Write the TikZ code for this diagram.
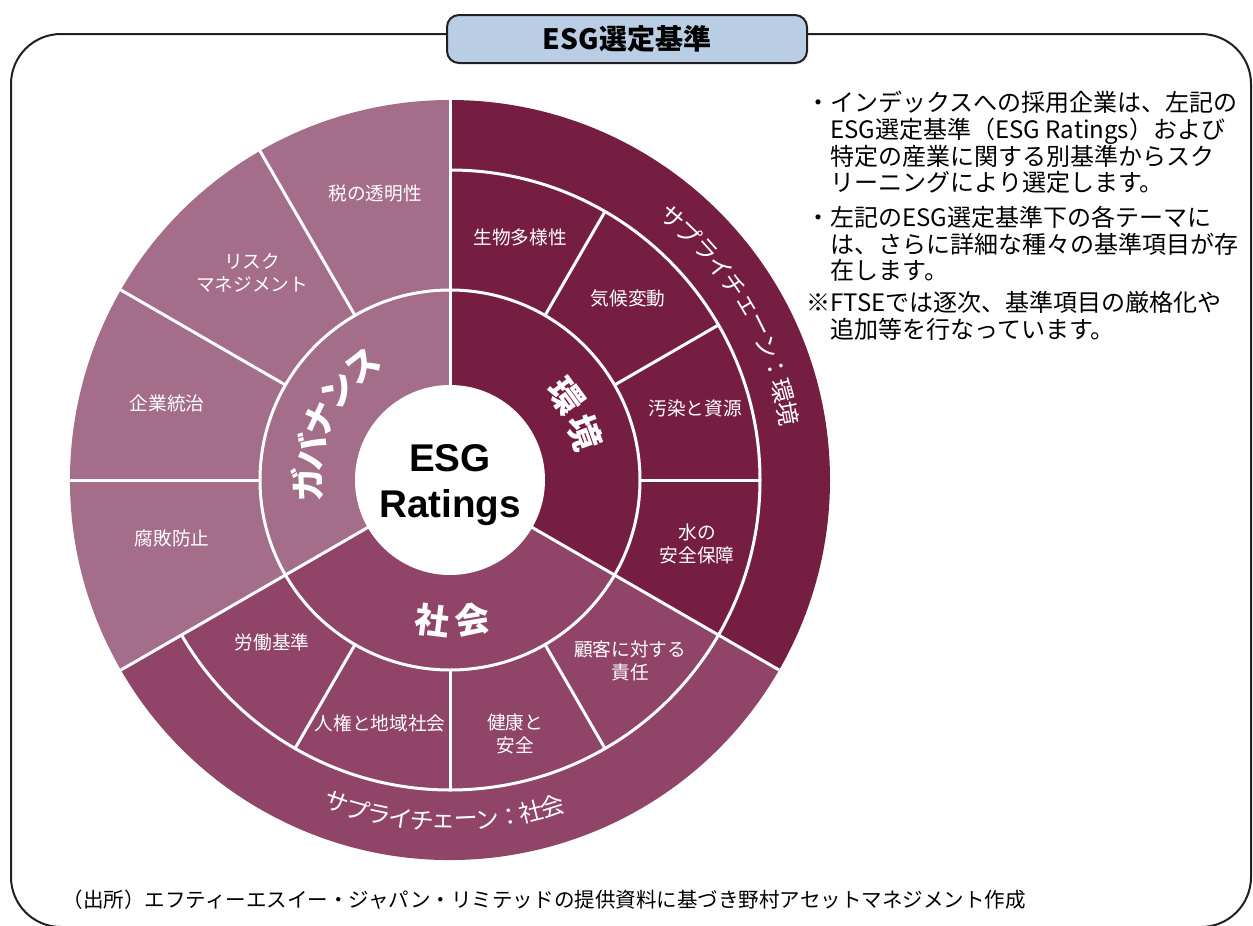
\documentclass[tikz,border=0pt]{standalone}
\usepackage{fontspec}
\setmainfont{Noto Sans CJK JP}
\newfontfamily\latinfont{Liberation Sans}
\usetikzlibrary{positioning,calc}

\definecolor{envc}{RGB}{117,30,66}
\definecolor{socc}{RGB}{143,68,104}
\definecolor{govc}{RGB}{164,109,137}
\definecolor{titlebg}{RGB}{185,205,229}
\definecolor{framec}{RGB}{35,31,32}

\newcommand{\ind}{\hspace*{1em}}

\tikzset{every picture/.style={line width=0.75pt}}
\tikzset{
  wline/.style={draw=white,line width=2.25pt},
  titlebox/.style={draw=framec,line width=1.5pt,fill=titlebg,rounded corners=9pt,minimum width=270pt,minimum height=36pt,inner sep=0pt,font=\bfseries\fontsize{21}{21}\selectfont},
  core/.style={circle,fill=white,minimum size=142.5pt,inner sep=0pt},
  coretxt/.style={align=center,inner sep=0pt,font=\latinfont\bfseries\fontsize{29}{34.5}\selectfont},
  sublbl/.style={text=white,align=center,inner sep=0.75pt,font=\fontsize{14}{17}\selectfont},
  mainlbl/.style={text=white,inner sep=0pt,font=\bfseries\fontsize{26}{26}\selectfont},
  ringlbl/.style={text=white,inner sep=0pt,font=\fontsize{18}{18}\selectfont},
  notetxt/.style={align=left,inner sep=0pt,font=\fontsize{18}{19.9}\selectfont},
}

\begin{document}
\begin{tikzpicture}[x=0.75pt,y=0.75pt,yscale=-1,xscale=1]
	%set diagram to 1253 x 925
	\useasboundingbox (0,0) rectangle (1253,925);

	%Shape: Rounded Rectangle
	\draw[framec,line width=1.5pt,rounded corners=37.5pt] (11,34) rectangle (1251,927);
	% Text Node
	\node[titlebox] (title) at (627,39) {ESG選定基準};

	\coordinate (C) at (450,480);
	%Shape: Pie
	\fill[envc] (C) -- ++(-90:380) arc[start angle=-90,end angle=30,radius=380] -- cycle;
	%Shape: Pie
	\fill[socc] (C) -- ++(30:380) arc[start angle=30,end angle=150,radius=380] -- cycle;
	%Shape: Pie
	\fill[govc] (C) -- ++(150:380) arc[start angle=150,end angle=270,radius=380] -- cycle;

	%Shape: Circle
	\draw[wline] (C) circle[radius=190];
	%Shape: Arc
	\draw[wline] (C) ++(-90:310) arc[start angle=-90,end angle=150,radius=310];
	%Shape: Lines
	\foreach \a in {-90,30,150} \draw[wline] (C) -- ++(\a:380);
	\foreach \a in {-60,-30,0,60,90,120} \draw[wline] (C) ++(\a:190) -- ++(\a:120);
	\foreach \a in {-120,-150,180} \draw[wline] (C) ++(\a:190) -- ++(\a:190);

	%Shape: Circle
	\node[core] (core) at (C) {};
	% Text Node
	\node[coretxt] (rating) at (450,485) {ESG\\Ratings};

	% main themes
	\foreach \ch/\ang [count=\i] in {環/36,境/19.5}
		\node[mainlbl,rotate=\ang-90] (env\i) at ($(C)+(-\ang:143)$) {\ch};
	\foreach \ch/\ang [count=\i] in {ガ/182,バ/168.4,ナ/154.8,ン/141.2,ス/127.6}
		\node[mainlbl,rotate=\ang-90] (gov\i) at ($(C)+(-\ang:143)$) {\ch};
	\foreach \ch/\ang [count=\i] in {社/-97.3,会/-80.7}
		\node[mainlbl,rotate=\ang+90] (soc\i) at ($(C)+(-\ang:142)$) {\ch};

	% supply chain rings
	\foreach \ch [count=\i from 0] in {サ,プ,ラ,イ,チ,ェ,ー,ン,：,環,境} {
		\pgfmathsetmacro\ang{49.8-\i*3.86}
		\node[ringlbl,rotate=\ang-90] (sce\i) at ($(C)+(-\ang:344)$) {\ch};
	}
	\foreach \ch [count=\i from 0] in {サ,プ,ラ,イ,チ,ェ,ー,ン,：,社,会} {
		\pgfmathsetmacro\ang{-109.35+\i*3.67}
		\node[ringlbl,rotate=\ang+90] (scs\i) at ($(C)+(-\ang:342)$) {\ch};
	}

	% Text Node
	\node[sublbl] (biodiv) at (520,237) {生物多様性};
	% Text Node
	\node[sublbl] (climate) at (628,298) {気候変動};
	% Text Node
	\node[sublbl] (pollution) at (695,408) {汚染と資源};
	% Text Node
	\node[sublbl] (water) at (697,544) {水の\\安全保障};
	% Text Node
	\node[sublbl] (customer) at (630,661) {顧客に対する\\責任};
	% Text Node
	\node[sublbl] (health) at (515,734) {健康と\\安全};
	% Text Node
	\node[sublbl] (rights) at (380,723) {人権と地域社会};
	% Text Node
	\node[sublbl] (labour) at (272,642) {労働基準};
	% Text Node
	\node[sublbl] (anticorr) at (172,538) {腐敗防止};
	% Text Node
	\node[sublbl] (corpgov) at (167,403) {企業統治};
	% Text Node
	\node[sublbl] (risk) at (252,273) {リスク\\マネジメント};
	% Text Node
	\node[sublbl] (tax) at (375,193) {税の透明性};

	% Text Node
	\node[notetxt,anchor=north west] (note1) at (806,91) {・インデックスへの採用企業は、左記の\\\ind ESG選定基準（ESG Ratings）および\\\ind 特定の産業に関する別基準からスク\\\ind リーニングにより選定します。};
	% Text Node
	\node[notetxt,anchor=north west] (note2) at (806,206) {・左記のESG選定基準下の各テーマに\\\ind は、さらに詳細な種々の基準項目が存\\\ind 在します。};
	% Text Node
	\node[notetxt,anchor=north west] (note3) at (806,291) {※FTSEでは逐次、基準項目の厳格化や\\\ind 追加等を行なっています。};

	% Text Node
	\node[anchor=west,inner sep=0pt,font=\fontsize{15.4}{16}\selectfont] (source) at (62,900) {（出所）エフティーエスイー・ジャパン・リミテッドの提供資料に基づき野村アセットマネジメント作成};

\end{tikzpicture}
\end{document}
